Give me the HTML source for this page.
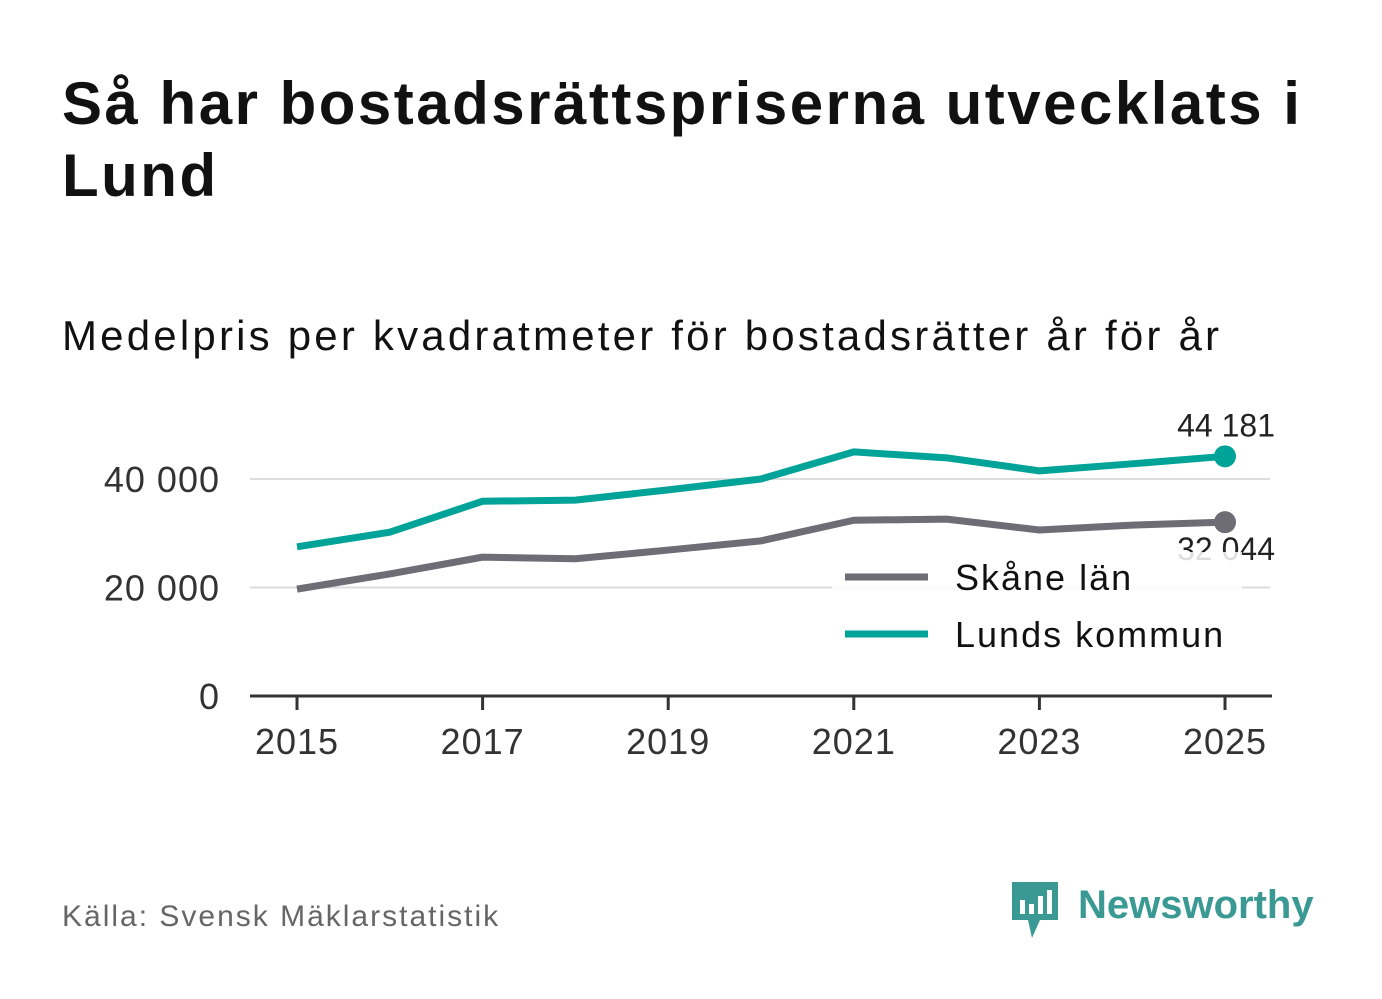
<!DOCTYPE html>
<html><head><meta charset="utf-8">
<style>
body{margin:0;width:1382px;height:999px;background:#fff;font-family:"Liberation Sans","DejaVu Sans",sans-serif;overflow:hidden;position:relative}
#title{position:absolute;left:62px;top:68px;font-size:60px;font-weight:bold;color:#111;line-height:72px;margin:0;width:1300px;letter-spacing:2.5px}
#subtitle{position:absolute;left:62px;top:312px;font-size:42px;color:#111;letter-spacing:3.2px}
#source{position:absolute;left:62px;top:900px;font-size:30px;color:#666;letter-spacing:2px}
#logo{position:absolute;left:1010px;top:878px}
svg text{font-family:"Liberation Sans","DejaVu Sans",sans-serif}
</style></head><body>
<h1 id="title">Så har bostadsrättspriserna utvecklats i Lund</h1>
<div id="subtitle">Medelpris per kvadratmeter för bostadsrätter år för år</div>
<svg id="chart" width="1382" height="999" style="position:absolute;left:0;top:0"></svg>
<div id="source">Källa: Svensk Mäklarstatistik</div>
<div id="logo">
<svg width="320" height="64">
<path d="M2 4 h46 v38 h-18 l-8 18 l-4-18 h-16z" fill="#3a9a93"/>
<rect x="10" y="22" width="5" height="14" fill="#fff"/><rect x="19" y="26" width="5" height="10" fill="#fff"/><rect x="28" y="18" width="5" height="18" fill="#fff"/><rect x="37" y="12" width="5" height="24" fill="#fff"/>
<text x="68" y="40" font-size="40" font-weight="bold" fill="#3a9a93">Newsworthy</text>
</svg></div>
<script>
const years=[2015,2016,2017,2018,2019,2020,2021,2022,2023,2024,2025];
const skane=[19700,22500,25600,25300,26900,28600,32400,32600,30600,31500,32044];
const lund=[27500,30200,35900,36100,38000,40000,45000,43900,41500,42800,44181];
const yTicks=[0,20000,40000];
const xTickYears=[2015,2017,2019,2021,2023,2025];
const NS='http://www.w3.org/2000/svg';
const svg=document.getElementById('chart');
const x=v=>297+(v-2015)*92.8;
const y=v=>696-v*0.005425;
const fmt=v=>String(v).replace(/\B(?=(\d{3})+(?!\d))/g,' ');
function mk(t,a){const e=document.createElementNS(NS,t);for(const k in a)e.setAttribute(k,a[k]);svg.appendChild(e);return e;}
yTicks.forEach(v=>{
 if(v>0){const g=mk('line',{x1:250,x2:1270,y1:y(v),y2:y(v),stroke:'#ddd','stroke-width':2});
 
 }
 const t=mk('text',{x:220,y:y(v)+13,'font-size':36,'text-anchor':'end',fill:'#333','letter-spacing':1});t.textContent=fmt(v);
 
 
});
const ax=mk('line',{x1:250,x2:1272,y1:696,y2:696,stroke:'#333','stroke-width':3});


xTickYears.forEach(v=>{
 const l=mk('line',{x1:x(v),x2:x(v),y1:696,y2:710,stroke:'#333','stroke-width':3});
 
 
 const t=mk('text',{x:x(v),y:754,'font-size':36,'text-anchor':'middle',fill:'#333','letter-spacing':1});t.textContent=v;
 
 
});
function series(vals,color,name,labelDy){
 const p=mk('polyline',{points:vals.map((v,i)=>x(years[i])+','+y(v)).join(' '),fill:'none',stroke:color,'stroke-width':7,'stroke-linejoin':'round'});
 
 
 const last=vals[vals.length-1];
 const c=mk('circle',{cx:x(2025),cy:y(last),r:11,fill:color});
 
 
 const t=mk('text',{x:1275,y:y(last)+labelDy,'font-size':32,'text-anchor':'end',fill:'#222'});t.textContent=fmt(last);
 
 
}
series(skane,'#6e6c74','skane',38);
series(lund,'#00a397','lund',-20);
const bg=mk('rect',{x:832,y:552,width:410,height:110,fill:'#fff','fill-opacity':0.85});


[['Skåne län','#6e6c74',577],['Lunds kommun','#00a397',634]].forEach(([n,c,yy])=>{
 const l=mk('line',{x1:845,x2:928,y1:yy,y2:yy,stroke:c,'stroke-width':7});
 
 
 const t=mk('text',{x:955,y:yy+13,'font-size':36,fill:'#111','letter-spacing':2});t.textContent=n;
 
 
});
</script>
</body></html>
